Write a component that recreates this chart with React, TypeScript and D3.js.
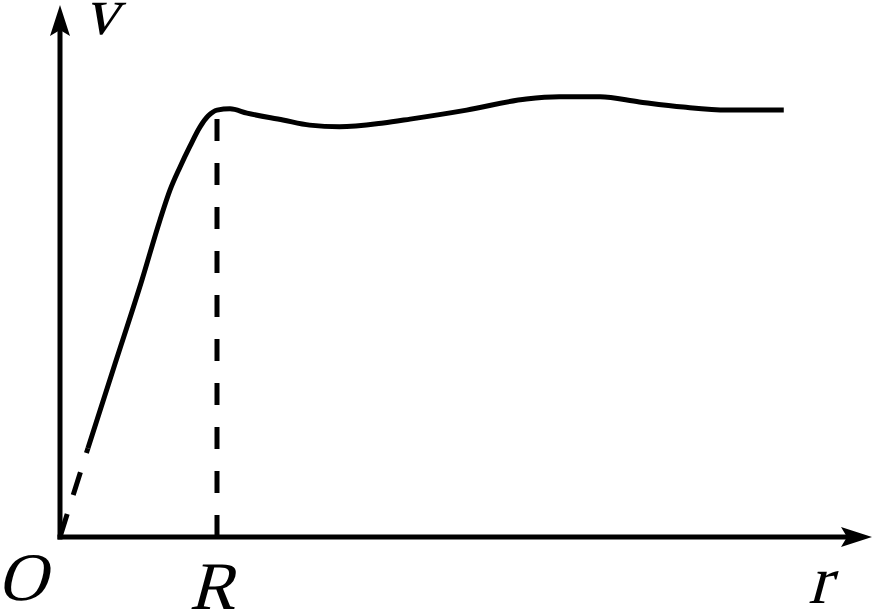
import React from 'react';
import * as d3 from 'd3';

// curve readings, r in units of R, v in units of peak speed
const dashedR = [0, 0.178];
const dashedV = [0, 0.207];
const solidR = [0.178, 0.35, 0.522, 0.637, 0.701, 0.764, 0.828, 0.892, 0.943, 1.0, 1.083, 1.191, 1.42, 1.59, 1.78, 2.06, 2.23, 2.59, 2.97, 3.18, 3.44, 3.69, 3.97, 4.25, 4.61];
const solidV = [0.207, 0.403, 0.599, 0.739, 0.809, 0.862, 0.911, 0.956, 0.981, 0.995, 0.998, 0.988, 0.972, 0.96, 0.956, 0.965, 0.974, 0.995, 1.021, 1.026, 1.026, 1.014, 1.002, 0.995, 0.995];
const markR = 1;
const markV = 0.995;
const rMax = 5.172;
const vMax = 1.24;

const width = 878;
const height = 612;
const font = "'Liberation Serif', 'DejaVu Serif', serif";

const App: React.FC = () => {
  const x = d3.scaleLinear().domain([0, rMax]).range([60, 872]);
  const y = d3.scaleLinear().domain([0, vMax]).range([537, 5]);

  const line = d3.line<[number, number]>()
    .x(d => x(d[0]))
    .y(d => y(d[1]))
    .curve(d3.curveMonotoneX);

  const dashedPts = dashedR.map((r, i) => [r, dashedV[i]] as [number, number]);
  const solidPts = solidR.map((r, i) => [r, solidV[i]] as [number, number]);

  const x0 = x(0), y0 = y(0);
  const xTip = x(rMax), yTip = y(vMax);

  const labels = [
    { t: 'v', x: 84, y: 34 },
    { t: 'O', x: -3, y: 600 },
    { t: 'R', x: 189, y: 609 },
    { t: 'r', x: 808, y: 603 },
  ];

  return (
    <svg width={width} height={height} style={{ position: 'absolute', left: 0, top: 0, background: '#fff' }}>
      {/* axes */}
      <line x1={x0} y1={y0} x2={x0} y2={yTip + 26} stroke="#000" strokeWidth={5} strokeLinecap="square" />
      <line x1={x0} y1={y0} x2={xTip - 26} y2={y0} stroke="#000" strokeWidth={5} strokeLinecap="square" />
      <path d={`M${x0},${yTip} L${x0 - 10},${yTip + 31} L${x0},${yTip + 25} L${x0 + 10},${yTip + 31} Z`} fill="#000" />
      <path d={`M${xTip},${y0} L${xTip - 31},${y0 - 10} L${xTip - 25},${y0} L${xTip - 31},${y0 + 10} Z`} fill="#000" />

      {/* dashed drop line at R */}
      <line x1={x(markR)} y1={y0} x2={x(markR)} y2={y(markV)} stroke="#000" strokeWidth={5} strokeDasharray="22 22" />

      {/* curve */}
      <path d={line(dashedPts) || ''} fill="none" stroke="#000" strokeWidth={5} strokeDasharray="24 20" />
      <path d={line(solidPts) || ''} fill="none" stroke="#000" strokeWidth={5} strokeLinejoin="round" />

      {/* labels, slanted by hand */}
      {labels.map(l => (
        <text
          key={l.t}
          transform={`translate(${l.x},${l.y}) skewX(-15)`}
          style={{ fontFamily: font, fontSize: 68 }}
          fill="#000"
        >
          {l.t}
        </text>
      ))}
    </svg>
  );
};

export default App;
